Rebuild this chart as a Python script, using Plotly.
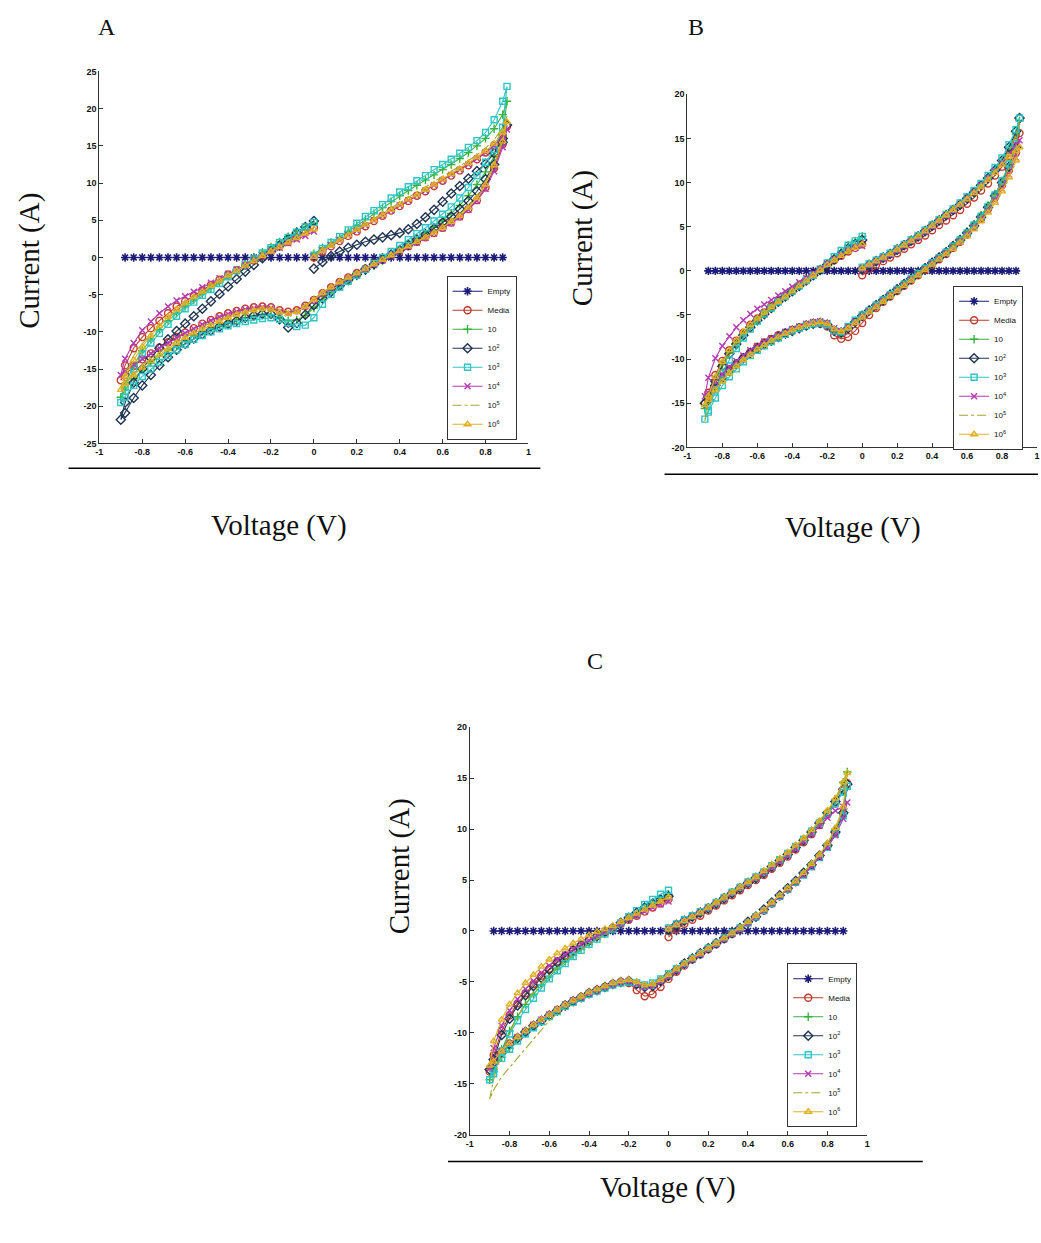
import plotly.graph_objects as go

W, H = 1041, 1243

# Sweep voltage (V): 0 -> +0.9 -> -0.9 -> 0 in 0.04 V steps
V_UP = [0.00, 0.04, 0.08, 0.12, 0.16, 0.20, 0.24, 0.28, 0.32, 0.36, 0.40, 0.44,
        0.48, 0.52, 0.56, 0.60, 0.64, 0.68, 0.72, 0.76, 0.80, 0.84, 0.88, 0.90]
V_DOWN = [0.88, 0.84, 0.80, 0.76, 0.72, 0.68, 0.64, 0.60, 0.56, 0.52, 0.48, 0.44,
          0.40, 0.36, 0.32, 0.28, 0.24, 0.20, 0.16, 0.12, 0.08, 0.04, 0.00,
          -0.04, -0.08, -0.12, -0.16, -0.20, -0.24, -0.28, -0.32, -0.36, -0.40,
          -0.44, -0.48, -0.52, -0.56, -0.60, -0.64, -0.68, -0.72, -0.76, -0.80,
          -0.84, -0.88, -0.90]
V_BACK = [-0.88, -0.84, -0.80, -0.76, -0.72, -0.68, -0.64, -0.60, -0.56, -0.52,
          -0.48, -0.44, -0.40, -0.36, -0.32, -0.28, -0.24, -0.20, -0.16, -0.12,
          -0.08, -0.04, 0.00]
VOLTAGE = V_UP + V_DOWN + V_BACK

# Empty cell: flat zero current
V_EMPTY = [-0.88, -0.84, -0.80, -0.76, -0.72, -0.68, -0.64, -0.60, -0.56, -0.52,
           -0.48, -0.44, -0.40, -0.36, -0.32, -0.28, -0.24, -0.20, -0.16, -0.12,
           -0.08, -0.04, 0.00, 0.04, 0.08, 0.12, 0.16, 0.20, 0.24, 0.28, 0.32,
           0.36, 0.40, 0.44, 0.48, 0.52, 0.56, 0.60, 0.64, 0.68, 0.72, 0.76,
           0.80, 0.84, 0.88]
I_EMPTY = [0, 0, 0, 0, 0, 0, 0, 0, 0, 0, 0, 0, 0, 0, 0, 0, 0, 0, 0, 0, 0, 0, 0,
           0, 0, 0, 0, 0, 0, 0, 0, 0, 0, 0, 0, 0, 0, 0, 0, 0, 0, 0, 0, 0, 0]

SERIES_NAMES = ["Empty", "Media", "10", "10<sup>2</sup>", "10<sup>3</sup>",
                "10<sup>4</sup>", "10<sup>5</sup>", "10<sup>6</sup>"]

# ---- Panel A currents (A) ----
A_MEDIA = [0.0, 0.8, 1.5, 2.2, 2.9, 3.5, 4.2, 4.9, 5.6, 6.3, 6.9, 7.6, 8.3, 8.9, 9.6, 10.3, 11.0, 11.7, 12.4, 13.2, 14.1, 15.0, 16.4, 17.6,
           15.2, 12.0, 9.4, 7.7, 6.5, 5.5, 4.7, 4.0, 3.3, 2.7, 2.1, 1.5, 0.9, 0.3, -0.3, -0.9, -1.5, -2.1, -2.7, -3.3, -4.0, -4.8, -5.7,
           -6.5, -7.1, -7.3, -7.1, -6.7, -6.6, -6.7, -6.9, -7.2, -7.5, -7.9, -8.4, -8.9, -9.5, -10.1, -10.7, -11.4, -12.1, -12.9, -13.7, -14.6, -15.8, -16.5,
           -14.5, -12.2, -10.7, -9.5, -8.5, -7.5, -6.6, -5.9, -5.1, -4.4, -3.7, -3.0, -2.3, -1.7, -1.1, -0.4, 0.2, 0.9, 1.5, 2.1, 2.7, 3.3, 4.0]
A_10 = [0.5, 1.3, 2.0, 2.7, 3.5, 4.3, 5.1, 5.9, 6.7, 7.5, 8.3, 9.0, 9.7, 10.4, 11.1, 11.8, 12.5, 13.3, 14.1, 15.0, 16.0, 17.3, 19.2, 21.0,
        16.5, 13.6, 11.5, 9.8, 8.3, 7.0, 5.9, 5.0, 4.1, 3.3, 2.5, 1.8, 1.0, 0.3, -0.4, -1.1, -1.8, -2.5, -3.2, -3.9, -4.7, -5.6, -6.8,
        -7.8, -8.4, -8.5, -8.1, -7.7, -7.7, -7.9, -8.1, -8.4, -8.7, -9.1, -9.5, -10.0, -10.5, -11.1, -11.8, -12.5, -13.3, -14.2, -15.1, -16.3, -17.8, -18.8,
        -17.0, -14.5, -12.5, -11.0, -9.7, -8.5, -7.5, -6.6, -5.7, -4.9, -4.1, -3.3, -2.5, -1.7, -0.9, -0.1, 0.7, 1.4, 2.1, 2.8, 3.5, 4.1, 4.6]
A_10_2 = [-1.5, -0.6, 0.2, 0.8, 1.3, 1.7, 2.1, 2.4, 2.7, 3.0, 3.3, 3.8, 4.5, 5.4, 6.4, 7.5, 8.6, 9.6, 10.6, 11.6, 12.6, 14.0, 16.0, 17.8,
          15.5, 12.5, 10.5, 8.9, 7.6, 6.5, 5.5, 4.7, 3.9, 3.1, 2.4, 1.7, 1.0, 0.4, -0.2, -0.9, -1.6, -2.3, -3.0, -3.8, -4.6, -5.5, -6.4,
          -7.7, -8.8, -9.4, -8.3, -7.6, -7.6, -7.8, -8.1, -8.5, -8.9, -9.3, -9.8, -10.3, -10.9, -11.6, -12.4, -13.4, -14.5, -15.8, -17.2, -18.9, -20.9, -21.8,
          -19.5, -16.8, -15.0, -13.5, -12.2, -11.0, -9.9, -8.9, -7.9, -6.9, -5.9, -4.9, -3.9, -2.9, -1.9, -1.0, -0.1, 0.8, 1.6, 2.5, 3.3, 4.1, 4.9]
A_10_3 = [0.3, 1.2, 2.0, 2.8, 3.7, 4.6, 5.5, 6.3, 7.1, 8.0, 8.8, 9.5, 10.3, 11.0, 11.8, 12.5, 13.2, 14.0, 14.8, 15.7, 16.8, 18.5, 21.0, 23.0,
          17.5, 14.5, 12.8, 11.0, 9.4, 8.0, 6.8, 5.8, 4.9, 4.0, 3.2, 2.4, 1.6, 0.8, 0.0, -0.8, -1.6, -2.4, -3.2, -4.0, -5.0, -6.3, -8.1,
          -9.1, -9.3, -8.8, -8.3, -8.1, -8.2, -8.4, -8.6, -8.9, -9.2, -9.6, -10.0, -10.5, -11.0, -11.7, -12.4, -13.2, -14.1, -15.0, -16.0, -17.2, -18.8, -19.5,
          -17.5, -15.0, -13.0, -11.5, -10.2, -9.0, -7.9, -6.9, -6.0, -5.1, -4.3, -3.5, -2.6, -1.8, -1.0, -0.2, 0.6, 1.3, 2.0, 2.7, 3.4, 4.1, 4.7]
A_10_4 = [0.1, 0.9, 1.6, 2.3, 3.0, 3.6, 4.3, 5.0, 5.6, 6.3, 7.0, 7.7, 8.3, 9.0, 9.7, 10.4, 11.1, 11.8, 12.5, 13.3, 14.1, 15.0, 16.2, 17.2,
          14.8, 11.6, 9.2, 7.6, 6.4, 5.4, 4.6, 3.9, 3.2, 2.6, 2.0, 1.4, 0.8, 0.2, -0.4, -1.0, -1.6, -2.2, -2.8, -3.4, -4.1, -4.9, -5.8,
          -6.6, -7.2, -7.5, -7.3, -6.8, -6.7, -6.8, -7.0, -7.3, -7.6, -8.0, -8.5, -9.0, -9.6, -10.2, -10.8, -11.5, -12.2, -12.9, -13.6, -14.4, -15.3, -15.8,
          -13.6, -11.5, -9.8, -8.6, -7.5, -6.6, -5.8, -5.2, -4.6, -4.0, -3.4, -2.8, -2.2, -1.6, -1.0, -0.4, 0.2, 0.8, 1.3, 1.9, 2.4, 2.9, 3.5]
A_10_5 = [0.2, 1.0, 1.7, 2.4, 3.1, 3.8, 4.5, 5.2, 5.9, 6.6, 7.3, 8.0, 8.7, 9.4, 10.1, 10.8, 11.5, 12.2, 13.0, 13.8, 14.7, 15.8, 17.5, 19.0,
          16.0, 12.8, 10.2, 8.3, 6.9, 5.8, 4.9, 4.1, 3.4, 2.8, 2.2, 1.6, 1.0, 0.4, -0.2, -0.8, -1.4, -2.0, -2.6, -3.2, -3.9, -4.7, -5.6,
          -6.4, -7.0, -7.2, -7.0, -6.7, -6.7, -6.9, -7.2, -7.5, -7.9, -8.3, -8.8, -9.3, -9.9, -10.5, -11.2, -11.9, -12.7, -13.6, -14.5, -15.6, -16.9, -17.5,
          -15.5, -13.2, -11.6, -10.3, -9.1, -8.1, -7.2, -6.4, -5.6, -4.8, -4.0, -3.3, -2.5, -1.8, -1.1, -0.4, 0.3, 1.0, 1.6, 2.2, 2.8, 3.4, 4.0]
A_10_6 = [0.1, 0.9, 1.6, 2.3, 3.0, 3.7, 4.4, 5.0, 5.7, 6.4, 7.1, 7.8, 8.4, 9.1, 9.8, 10.5, 11.2, 11.9, 12.7, 13.5, 14.3, 15.3, 16.8, 18.2,
          15.6, 12.4, 9.8, 8.0, 6.7, 5.6, 4.8, 4.0, 3.3, 2.7, 2.1, 1.5, 0.9, 0.3, -0.3, -0.9, -1.5, -2.1, -2.7, -3.3, -4.0, -4.8, -5.7,
          -6.6, -7.3, -7.6, -7.4, -7.0, -6.9, -7.1, -7.4, -7.7, -8.1, -8.6, -9.1, -9.6, -10.2, -10.8, -11.5, -12.3, -13.1, -13.9, -14.8, -15.8, -17.0, -17.8,
          -16.0, -13.8, -12.0, -10.5, -9.2, -8.0, -7.0, -6.1, -5.3, -4.6, -3.8, -3.1, -2.4, -1.8, -1.1, -0.5, 0.2, 0.8, 1.4, 2.0, 2.6, 3.2, 3.8]

# ---- Panel B currents (A) ----
B_MEDIA = [-0.5, 0.2, 0.7, 1.1, 1.5, 2.0, 2.5, 3.0, 3.5, 4.0, 4.6, 5.2, 5.7, 6.3, 6.9, 7.6, 8.3, 9.1, 9.9, 10.8, 11.8, 13.0, 14.6, 15.6,
           13.4, 11.4, 9.7, 8.3, 7.0, 5.9, 5.0, 4.1, 3.3, 2.6, 1.9, 1.3, 0.7, 0.1, -0.5, -1.1, -1.7, -2.3, -2.9, -3.5, -4.2, -5.0, -5.9,
           -6.8, -7.5, -7.7, -7.3, -6.3, -6.0, -6.0, -6.2, -6.4, -6.7, -7.0, -7.3, -7.7, -8.1, -8.6, -9.2, -9.8, -10.5, -11.2, -12.0, -13.0, -14.3, -15.0,
           -13.8, -11.8, -10.2, -9.0, -7.9, -7.0, -6.1, -5.4, -4.7, -4.0, -3.4, -2.8, -2.2, -1.6, -1.0, -0.5, 0.1, 0.7, 1.2, 1.7, 2.2, 2.6, 3.0]
B_10 = [0.3, 0.7, 1.1, 1.5, 2.0, 2.5, 3.0, 3.5, 4.0, 4.6, 5.2, 5.8, 6.4, 7.0, 7.6, 8.3, 9.0, 9.8, 10.6, 11.5, 12.5, 13.8, 15.5, 17.0,
        14.2, 12.0, 10.2, 8.7, 7.4, 6.3, 5.3, 4.4, 3.6, 2.9, 2.2, 1.6, 1.0, 0.4, -0.2, -0.8, -1.4, -2.0, -2.6, -3.2, -3.8, -4.4, -5.0,
        -5.7, -6.4, -6.9, -6.7, -6.0, -5.8, -5.9, -6.1, -6.4, -6.7, -7.0, -7.4, -7.8, -8.2, -8.7, -9.3, -9.9, -10.6, -11.4, -12.3, -13.4, -14.8, -15.6,
        -14.5, -12.3, -10.6, -9.3, -8.2, -7.2, -6.3, -5.5, -4.8, -4.1, -3.5, -2.9, -2.3, -1.7, -1.1, -0.5, 0.1, 0.8, 1.5, 2.2, 2.9, 3.4, 3.9]
B_10_2 = [0.2, 0.7, 1.1, 1.5, 1.9, 2.4, 2.9, 3.4, 3.9, 4.5, 5.1, 5.7, 6.3, 6.9, 7.5, 8.2, 8.9, 9.7, 10.5, 11.4, 12.5, 14.0, 15.8, 17.3,
          14.0, 11.8, 10.0, 8.5, 7.2, 6.1, 5.1, 4.3, 3.5, 2.8, 2.1, 1.5, 0.9, 0.3, -0.3, -0.9, -1.5, -2.1, -2.7, -3.3, -3.9, -4.5, -5.1,
          -5.8, -6.5, -7.0, -6.8, -6.1, -5.9, -6.0, -6.2, -6.5, -6.8, -7.1, -7.5, -7.9, -8.3, -8.8, -9.3, -9.9, -10.6, -11.3, -12.1, -13.0, -14.2, -15.0,
          -14.6, -12.5, -10.8, -9.4, -8.3, -7.3, -6.4, -5.6, -4.9, -4.2, -3.5, -2.9, -2.3, -1.7, -1.1, -0.5, 0.1, 0.7, 1.3, 1.9, 2.5, 3.0, 3.5]
B_10_3 = [0.4, 0.8, 1.2, 1.6, 2.0, 2.5, 3.0, 3.5, 4.0, 4.6, 5.2, 5.8, 6.4, 7.0, 7.7, 8.4, 9.1, 9.9, 10.8, 11.7, 12.8, 14.3, 16.0, 17.3,
          14.4, 12.1, 10.2, 8.6, 7.3, 6.2, 5.2, 4.3, 3.5, 2.8, 2.1, 1.5, 0.9, 0.3, -0.3, -0.9, -1.5, -2.1, -2.7, -3.3, -3.9, -4.5, -5.0,
          -5.6, -6.3, -6.9, -6.8, -6.1, -5.9, -6.0, -6.2, -6.5, -6.8, -7.2, -7.6, -8.0, -8.5, -9.0, -9.6, -10.3, -11.1, -12.0, -13.0, -14.4, -16.0, -16.8,
          -15.8, -13.5, -11.6, -10.1, -8.8, -7.6, -6.6, -5.7, -4.9, -4.2, -3.5, -2.9, -2.3, -1.7, -1.1, -0.5, 0.2, 0.9, 1.6, 2.3, 2.9, 3.4, 3.9]
B_10_4 = [0.2, 0.6, 1.0, 1.4, 1.8, 2.3, 2.8, 3.3, 3.8, 4.4, 5.0, 5.6, 6.2, 6.8, 7.5, 8.2, 8.9, 9.7, 10.5, 11.3, 12.2, 13.2, 14.3, 14.8,
          12.8, 10.9, 9.3, 8.0, 6.8, 5.8, 4.9, 4.1, 3.3, 2.6, 2.0, 1.4, 0.8, 0.2, -0.4, -1.0, -1.6, -2.2, -2.8, -3.4, -4.0, -4.6, -5.2,
          -5.8, -6.4, -6.8, -6.5, -5.9, -5.7, -5.8, -6.0, -6.3, -6.6, -6.9, -7.3, -7.6, -8.0, -8.5, -9.0, -9.6, -10.2, -10.9, -11.7, -12.6, -13.8, -14.2,
          -12.1, -9.9, -8.5, -7.4, -6.4, -5.6, -4.9, -4.3, -3.8, -3.3, -2.8, -2.3, -1.8, -1.3, -0.8, -0.3, 0.2, 0.8, 1.3, 1.8, 2.3, 2.6, 2.8]
B_10_5 = [0.3, 0.7, 1.1, 1.5, 1.9, 2.4, 2.9, 3.4, 3.9, 4.5, 5.1, 5.7, 6.3, 6.9, 7.5, 8.2, 8.9, 9.6, 10.4, 11.3, 12.3, 13.6, 15.4, 17.0,
          13.9, 11.7, 9.9, 8.5, 7.2, 6.1, 5.1, 4.3, 3.5, 2.8, 2.1, 1.5, 0.9, 0.3, -0.3, -0.9, -1.5, -2.1, -2.7, -3.3, -3.9, -4.5, -5.1,
          -5.7, -6.3, -6.8, -6.6, -6.0, -5.8, -5.9, -6.1, -6.4, -6.7, -7.0, -7.4, -7.8, -8.3, -8.8, -9.4, -10.0, -10.7, -11.5, -12.4, -13.6, -15.2, -17.0,
          -14.8, -12.6, -10.9, -9.5, -8.3, -7.3, -6.4, -5.6, -4.9, -4.2, -3.6, -3.0, -2.4, -1.8, -1.2, -0.6, 0.0, 0.6, 1.2, 1.8, 2.4, 2.9, 3.3]
B_10_6 = [0.3, 0.7, 1.1, 1.5, 1.9, 2.4, 2.9, 3.4, 3.9, 4.5, 5.1, 5.7, 6.3, 6.9, 7.5, 8.1, 8.8, 9.5, 10.3, 11.1, 12.0, 12.9, 13.6, 14.0,
          12.5, 10.6, 9.0, 7.7, 6.6, 5.6, 4.7, 3.9, 3.2, 2.5, 1.9, 1.3, 0.7, 0.1, -0.5, -1.1, -1.7, -2.3, -2.9, -3.5, -4.1, -4.7, -5.3,
          -5.9, -6.5, -6.9, -6.6, -6.0, -5.8, -5.9, -6.1, -6.4, -6.7, -7.1, -7.5, -7.9, -8.4, -8.9, -9.5, -10.1, -10.8, -11.6, -12.5, -13.5, -14.6, -15.2,
          -14.2, -12.0, -10.3, -9.0, -7.9, -6.9, -6.1, -5.4, -4.7, -4.1, -3.5, -2.9, -2.3, -1.7, -1.1, -0.5, 0.1, 0.7, 1.2, 1.7, 2.2, 2.6, 3.0]

# ---- Panel C currents (A) ----
C_MEDIA = [-0.6, 0.2, 0.7, 1.1, 1.5, 2.0, 2.5, 3.0, 3.5, 4.0, 4.5, 5.0, 5.5, 6.1, 6.7, 7.3, 8.0, 8.7, 9.5, 10.4, 11.4, 12.5, 13.8, 14.5,
           11.5, 9.6, 8.3, 7.3, 6.4, 5.6, 4.8, 4.1, 3.4, 2.7, 2.0, 1.4, 0.8, 0.2, -0.3, -0.8, -1.3, -1.8, -2.3, -2.8, -3.4, -4.0, -4.7,
           -5.5, -6.2, -6.4, -5.8, -5.1, -5.0, -5.2, -5.5, -5.8, -6.1, -6.5, -6.9, -7.3, -7.8, -8.3, -8.8, -9.3, -9.9, -10.5, -11.1, -11.9, -12.9, -13.8,
           -12.2, -9.8, -8.3, -7.1, -6.1, -5.2, -4.4, -3.7, -3.0, -2.4, -1.9, -1.4, -0.9, -0.5, -0.1, 0.3, 0.7, 1.1, 1.5, 1.9, 2.3, 2.7, 3.1]
C_10 = [0.2, 0.6, 1.0, 1.4, 1.8, 2.3, 2.8, 3.3, 3.8, 4.3, 4.8, 5.3, 5.8, 6.4, 7.0, 7.6, 8.3, 9.0, 9.8, 10.7, 11.7, 12.9, 14.6, 15.6,
        12.0, 10.0, 8.5, 7.4, 6.5, 5.7, 4.9, 4.2, 3.5, 2.8, 2.1, 1.5, 0.9, 0.3, -0.2, -0.7, -1.2, -1.7, -2.2, -2.7, -3.2, -3.8, -4.4,
        -4.9, -5.3, -5.4, -5.1, -4.9, -5.0, -5.2, -5.5, -5.8, -6.1, -6.5, -6.9, -7.3, -7.8, -8.3, -8.8, -9.4, -10.0, -10.7, -11.5, -12.4, -13.6, -14.6,
        -13.8, -11.6, -9.8, -8.4, -7.2, -6.2, -5.3, -4.5, -3.7, -3.0, -2.4, -1.8, -1.3, -0.8, -0.3, 0.2, 0.7, 1.2, 1.7, 2.2, 2.7, 3.2, 3.6]
C_10_2 = [0.1, 0.6, 1.0, 1.4, 1.8, 2.2, 2.7, 3.2, 3.7, 4.2, 4.7, 5.2, 5.7, 6.3, 6.9, 7.5, 8.2, 8.9, 9.7, 10.6, 11.6, 12.7, 13.9, 14.4,
          11.6, 9.7, 8.4, 7.4, 6.5, 5.7, 4.9, 4.2, 3.5, 2.8, 2.1, 1.4, 0.9, 0.3, -0.2, -0.7, -1.2, -1.7, -2.2, -2.7, -3.2, -3.8, -4.4,
          -4.9, -5.4, -5.5, -5.2, -4.9, -5.0, -5.2, -5.5, -5.8, -6.1, -6.5, -6.9, -7.3, -7.8, -8.3, -8.8, -9.3, -9.9, -10.5, -11.1, -11.9, -13.0, -13.6,
          -12.6, -10.2, -8.6, -7.3, -6.3, -5.4, -4.6, -3.8, -3.1, -2.5, -1.9, -1.4, -0.9, -0.5, -0.1, 0.3, 0.8, 1.3, 1.8, 2.3, 2.7, 3.1, 3.4]
C_10_3 = [0.3, 0.7, 1.1, 1.5, 1.9, 2.3, 2.8, 3.3, 3.8, 4.3, 4.8, 5.3, 5.8, 6.4, 7.0, 7.6, 8.3, 9.0, 9.8, 10.6, 11.5, 12.5, 13.6, 14.2,
          11.3, 9.5, 8.2, 7.2, 6.3, 5.5, 4.8, 4.1, 3.4, 2.7, 2.0, 1.4, 0.8, 0.3, -0.2, -0.7, -1.2, -1.7, -2.2, -2.7, -3.2, -3.7, -4.2,
          -4.7, -5.1, -5.3, -5.1, -5.0, -5.1, -5.3, -5.6, -5.9, -6.2, -6.6, -7.0, -7.4, -7.9, -8.4, -8.9, -9.5, -10.1, -10.8, -11.6, -12.5, -13.6, -14.6,
          -14.0, -11.8, -10.1, -8.8, -7.7, -6.6, -5.6, -4.7, -3.9, -3.2, -2.5, -1.9, -1.3, -0.8, -0.3, 0.2, 0.8, 1.4, 2.0, 2.6, 3.1, 3.6, 4.0]
C_10_4 = [0.2, 0.6, 1.0, 1.4, 1.8, 2.2, 2.7, 3.2, 3.7, 4.2, 4.7, 5.2, 5.7, 6.2, 6.8, 7.4, 8.1, 8.8, 9.5, 10.3, 11.1, 11.8, 12.2, 12.6,
          11.0, 9.4, 8.2, 7.2, 6.3, 5.5, 4.8, 4.1, 3.4, 2.7, 2.0, 1.4, 0.8, 0.2, -0.3, -0.8, -1.3, -1.8, -2.3, -2.8, -3.3, -3.9, -4.5,
          -5.0, -5.4, -5.5, -5.2, -4.9, -5.0, -5.2, -5.5, -5.8, -6.1, -6.5, -6.8, -7.2, -7.7, -8.2, -8.7, -9.2, -9.8, -10.4, -11.0, -11.8, -12.8, -13.5,
          -11.5, -9.3, -7.8, -6.7, -5.7, -4.9, -4.1, -3.4, -2.8, -2.3, -1.8, -1.3, -0.9, -0.5, -0.1, 0.3, 0.7, 1.1, 1.5, 1.9, 2.3, 2.6, 2.9]
C_10_5 = [0.2, 0.6, 1.0, 1.4, 1.8, 2.2, 2.7, 3.2, 3.7, 4.2, 4.7, 5.2, 5.8, 6.4, 7.0, 7.6, 8.3, 9.0, 9.8, 10.7, 11.7, 12.8, 14.3, 15.4,
          11.9, 9.9, 8.5, 7.4, 6.5, 5.7, 4.9, 4.2, 3.5, 2.8, 2.1, 1.5, 0.9, 0.3, -0.2, -0.7, -1.2, -1.7, -2.2, -2.7, -3.2, -3.8, -4.4,
          -4.9, -5.3, -5.4, -5.1, -4.9, -5.0, -5.2, -5.5, -5.8, -6.2, -6.6, -7.0, -7.5, -8.1, -8.8, -9.7, -10.6, -11.5, -12.4, -13.3, -14.3, -15.6, -16.5,
          -14.5, -12.0, -10.0, -8.4, -7.1, -6.0, -5.1, -4.3, -3.6, -2.9, -2.3, -1.8, -1.3, -0.8, -0.4, 0.1, 0.6, 1.1, 1.6, 2.1, 2.6, 3.0, 3.4]
C_10_6 = [0.2, 0.6, 1.0, 1.4, 1.8, 2.3, 2.8, 3.3, 3.8, 4.3, 4.8, 5.3, 5.9, 6.5, 7.1, 7.7, 8.4, 9.1, 9.9, 10.8, 11.8, 13.0, 14.6, 15.5,
          12.2, 10.1, 8.6, 7.5, 6.6, 5.7, 4.9, 4.2, 3.5, 2.8, 2.1, 1.5, 0.9, 0.3, -0.2, -0.7, -1.2, -1.7, -2.2, -2.7, -3.2, -3.7, -4.3,
          -4.8, -5.2, -5.3, -5.0, -4.8, -4.9, -5.1, -5.4, -5.7, -6.0, -6.4, -6.8, -7.2, -7.7, -8.2, -8.7, -9.2, -9.8, -10.4, -11.0, -11.8, -12.8, -13.2,
          -10.8, -8.7, -7.2, -6.1, -5.1, -4.3, -3.5, -2.8, -2.2, -1.7, -1.2, -0.8, -0.4, -0.1, 0.2, 0.5, 0.9, 1.3, 1.7, 2.1, 2.5, 2.9, 3.3]

# Axis ticks
X_TICKS = [-1, -0.8, -0.6, -0.4, -0.2, 0, 0.2, 0.4, 0.6, 0.8, 1]
X_TICK_TEXT = ["-1", "-0.8", "-0.6", "-0.4", "-0.2", "0", "0.2", "0.4", "0.6", "0.8", "1"]
Y_TICKS_A = [-25, -20, -15, -10, -5, 0, 5, 10, 15, 20, 25]
Y_TICK_TEXT_A = ["-25", "-20", "-15", "-10", "-5", "0", "5", "10", "15", "20", "25"]
Y_TICKS_BC = [-20, -15, -10, -5, 0, 5, 10, 15, 20]
Y_TICK_TEXT_BC = ["-20", "-15", "-10", "-5", "0", "5", "10", "15", "20"]

# Line / marker styles per series (MATLAB-like)
STYLES = [
    dict(color="#1c1c78", symbol="asterisk-open", size=7, dash="solid"),
    dict(color="#c0392b", symbol="circle-open", size=7, dash="solid"),
    dict(color="#36b23c", symbol="cross-thin-open", size=6, dash="solid"),
    dict(color="#1e3450", symbol="diamond-open", size=7, dash="solid"),
    dict(color="#2ec4c4", symbol="square-open", size=6, dash="solid"),
    dict(color="#b33ab3", symbol="x-thin-open", size=6, dash="solid"),
    dict(color="#a5a52e", symbol=None, size=0, dash="dashdot"),
    dict(color="#e0b023", symbol="triangle-up-open", size=6, dash="solid"),
]

PANELS = [
    dict(xa="x", ya="y", legend="legend",
         series=[A_MEDIA, A_10, A_10_2, A_10_3, A_10_4, A_10_5, A_10_6]),
    dict(xa="x2", ya="y2", legend="legend2",
         series=[B_MEDIA, B_10, B_10_2, B_10_3, B_10_4, B_10_5, B_10_6]),
    dict(xa="x3", ya="y3", legend="legend3",
         series=[C_MEDIA, C_10, C_10_2, C_10_3, C_10_4, C_10_5, C_10_6]),
]

fig = go.Figure()

for panel in PANELS:
    all_series = [(V_EMPTY, I_EMPTY)] + [(VOLTAGE, cur) for cur in panel["series"]]
    for k, (xs, ys) in enumerate(all_series):
        st = STYLES[k]
        if st["symbol"] is None:
            mode = "lines"
            marker = None
        else:
            mode = "lines+markers"
            marker = dict(symbol=st["symbol"], size=st["size"], color=st["color"],
                          line=dict(width=1.6 if k == 0 else 1.4, color=st["color"]))
        fig.add_trace(go.Scatter(
            x=xs, y=ys, mode=mode, name=SERIES_NAMES[k],
            line=dict(color=st["color"], width=1.1, dash=st["dash"]),
            marker=marker, xaxis=panel["xa"], yaxis=panel["ya"],
            legend=panel["legend"], showlegend=True,
        ))

TICK_FONT = dict(family="Liberation Sans, Arial, sans-serif", size=9, color="#111", weight="bold")
AXIS = dict(showline=True, linecolor="#333", linewidth=1.2, mirror=False,
            ticks="inside", ticklen=4, tickwidth=1, tickcolor="#333",
            showgrid=False, zeroline=False, tickfont=TICK_FONT, fixedrange=True)


def xdom(left, right):
    return [left / W, right / W]


def ydom(top, bottom):
    return [1 - bottom / H, 1 - top / H]


LEGEND = dict(bgcolor="white", bordercolor="#333", borderwidth=1,
              font=dict(family="Liberation Sans, Arial, sans-serif", size=8, color="#111"),
              xanchor="right", yanchor="top", tracegroupgap=0, itemwidth=30)

fig.update_layout(
    width=W, height=H, margin=dict(l=0, r=0, t=0, b=0),
    paper_bgcolor="white", plot_bgcolor="white",
    xaxis=dict(AXIS, domain=xdom(96, 528), anchor="y", range=[-1, 1],
               tickvals=X_TICKS, ticktext=X_TICK_TEXT),
    yaxis=dict(AXIS, domain=ydom(67, 442), anchor="x", range=[-25, 25],
               tickvals=Y_TICKS_A, ticktext=Y_TICK_TEXT_A),
    xaxis2=dict(AXIS, domain=xdom(688, 1040), anchor="y2", range=[-1, 1],
                tickvals=X_TICKS, ticktext=X_TICK_TEXT),
    yaxis2=dict(AXIS, domain=ydom(90, 446), anchor="x2", range=[-20, 20],
                tickvals=Y_TICKS_BC, ticktext=Y_TICK_TEXT_BC),
    xaxis3=dict(AXIS, domain=xdom(469, 869), anchor="y3", range=[-1, 1],
                tickvals=X_TICKS, ticktext=X_TICK_TEXT),
    yaxis3=dict(AXIS, domain=ydom(728, 1139), anchor="x3", range=[-20, 20],
                tickvals=Y_TICKS_BC, ticktext=Y_TICK_TEXT_BC),
    legend=dict(LEGEND, x=516 / W, y=1 - 273 / H),
    legend2=dict(LEGEND, x=1026 / W, y=1 - 283 / H),
    legend3=dict(LEGEND, x=859 / W, y=1 - 966 / H),
    showlegend=True,
)

SERIF = dict(family="Liberation Serif, Times New Roman, serif", size=29, color="#111")
LETTER = dict(family="Liberation Serif, Times New Roman, serif", size=24, color="#111")


def label(text, x, y, angle=0, font=SERIF):
    fig.add_annotation(text=text, x=x / W, y=1 - y / H, xref="paper", yref="paper",
                       showarrow=False, textangle=angle, font=font,
                       xanchor="center", yanchor="middle")


label("A", 104, 22, font=LETTER)
label("B", 697, 22, font=LETTER)
label("C", 595, 661, font=LETTER)
label("Current (A)", 26, 258, -90)
label("Current (A)", 582, 235, -90)
label("Current (A)", 398, 868, -90)
label("Voltage (V)", 277, 525)
label("Voltage (V)", 855, 527)
label("Voltage (V)", 668, 1192)

# Rules under each panel's x axis
for x0, x1, y in [(65, 540, 467), (665, 1041, 473), (447, 925, 1166)]:
    fig.add_shape(type="line", xref="paper", yref="paper",
                  x0=x0 / W, x1=x1 / W, y0=1 - y / H, y1=1 - y / H,
                  line=dict(color="black", width=1.5))

fig.write_html("out.html")
